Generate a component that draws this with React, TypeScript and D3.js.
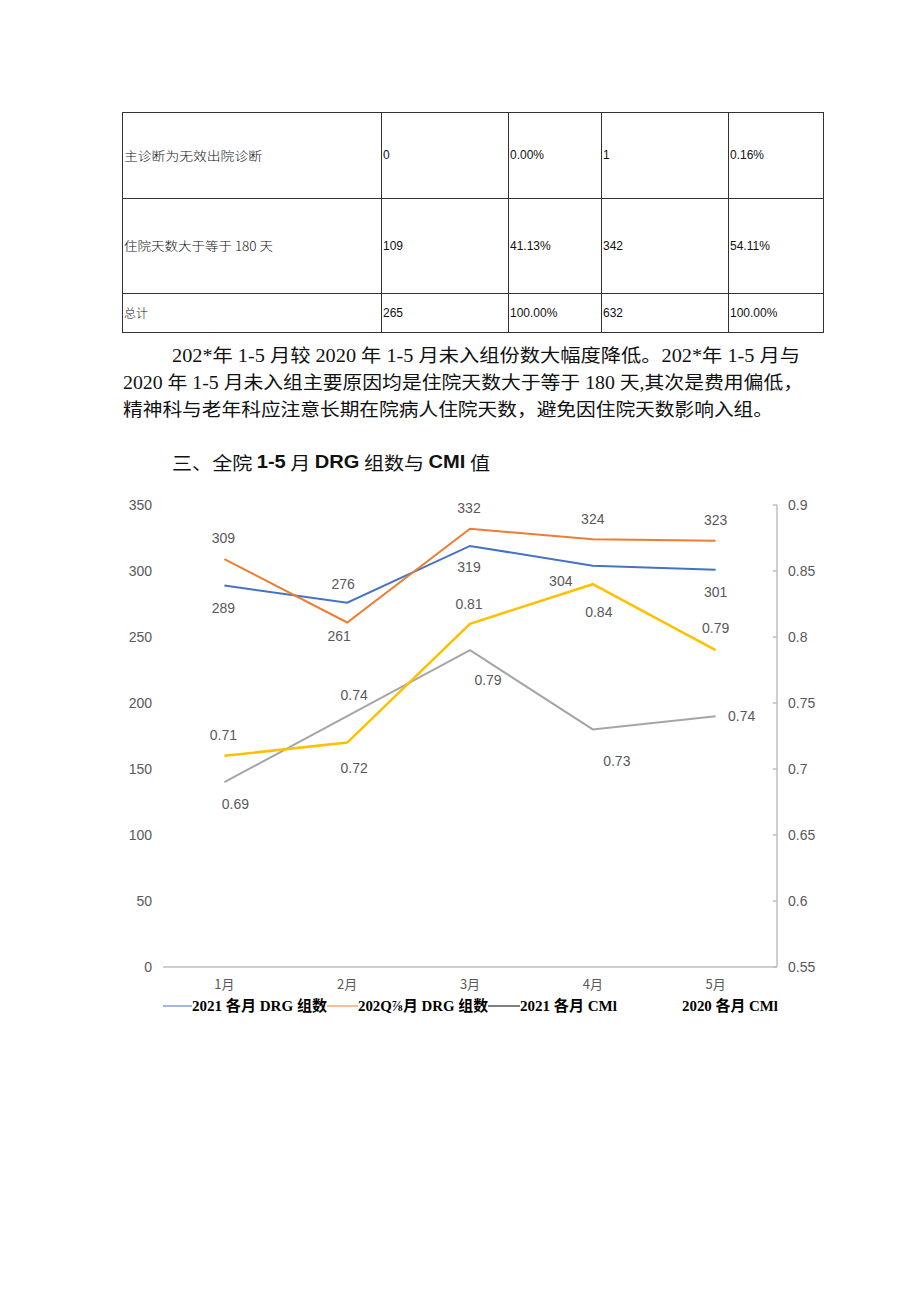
import React from 'react';
import * as d3 from 'd3';

// ---- table data ----
const tableRows = ['主诊断为无效出院诊断', '住院天数大于等于 180 天', '总计'];
const count2021 = ['0', '109', '265'];
const pct2021 = ['0.00%', '41.13%', '100.00%'];
const count2020 = ['1', '342', '632'];
const pct2020 = ['0.16%', '54.11%', '100.00%'];

// ---- paragraph text ----
const paraLines = [
  '202*年 1-5 月较 2020 年 1-5 月未入组份数大幅度降低。202*年 1-5 月与',
  '2020 年 1-5 月未入组主要原因均是住院天数大于等于 180 天,其次是费用偏低，',
  '精神科与老年科应注意长期在院病人住院天数，避免因住院天数影响入组。',
];

// ---- chart data ----
const months = ['1月', '2月', '3月', '4月', '5月'];
const drg2021 = [289, 276, 319, 304, 301];
const drg2020 = [309, 261, 332, 324, 323];
const cmi2021 = [0.69, 0.74, 0.79, 0.73, 0.74];
const cmi2020 = [0.71, 0.72, 0.81, 0.84, 0.79];
const leftTicks = [0, 50, 100, 150, 200, 250, 300, 350];
const rightTicks = [0.55, 0.6, 0.65, 0.7, 0.75, 0.8, 0.85, 0.9];
const seriesNames = ['2021 各月 DRG 组数', '202Q⅞月 DRG 组数', '2021 各月 CMl', '2020 各月 CMl'];

// ---- label placement (style) ----
const blueOff = [[-1, 22], [-4, -19], [-1, 21], [-32, 15], [0, 22]];
const orangeOff = [[-1, -21], [-8, 14], [-1, -21], [0, -20], [0, -21]];
const grayOff = [[11, 22], [7, -21], [18, 30], [24, 32], [26, 0]];
const yellowOff = [[-1, -21], [7, 25], [-1, -20], [6, 28], [0, -22]];

const SANS = '"Liberation Sans", Arial, "Noto Sans CJK SC", sans-serif';
const SERIF = '"Liberation Serif", "Times New Roman", "Noto Sans CJK SC", serif';
const CJK = '"Noto Sans CJK SC", "Liberation Sans", sans-serif';

export default function App() {
  // table geometry
  const colX = [122, 381, 508, 601, 728, 823];
  const rowY = [112, 198, 293, 332];
  const cols = [tableRows, count2021, pct2021, count2020, pct2020];
  const cjkLen = [138, 149, 24];

  // chart scales
  const x = d3.scaleBand<string>().domain(months).range([163, 777]);
  const cx = (m: string) => (x(m) as number) + x.bandwidth() / 2;
  const yL = d3.scaleLinear().domain([0, 350]).range([967, 505]);
  const yR = d3.scaleLinear().domain([0.55, 0.9]).range([967, 505]);

  const series = [
    { values: drg2021, scale: yL, color: '#4472C4', off: blueOff, fmt: (v: number) => String(v), w: 2 },
    { values: drg2020, scale: yL, color: '#ED7D31', off: orangeOff, fmt: (v: number) => String(v), w: 2 },
    { values: cmi2021, scale: yR, color: '#A5A5A5', off: grayOff, fmt: (v: number) => v.toFixed(2), w: 2 },
    { values: cmi2020, scale: yR, color: '#FFC000', off: yellowOff, fmt: (v: number) => v.toFixed(2), w: 2.5 },
  ];

  const fmtR = (v: number) => String(+v.toFixed(2));

  const legend = [
    { x1: 163, x2: 192, color: '#4472C4', tx: 192, len: 135 },
    { x1: 327, x2: 358, color: '#ED7D31', tx: 358, len: 130 },
    { x1: 488, x2: 520, color: '#000000', tx: 520, len: 97 },
    { x1: 0, x2: 0, color: 'none', tx: 682, len: 96 },
  ];

  return (
    <svg
      width={920}
      height={1301}
      style={{ position: 'absolute', left: 0, top: 0, background: '#fff' }}
    >
      <rect x={0} y={0} width={920} height={1301} fill="#fff" />

      {/* ---- table ---- */}
      <g stroke="#333" strokeWidth={1} shapeRendering="crispEdges">
        <rect x={colX[0]} y={rowY[0]} width={colX[5] - colX[0]} height={rowY[3] - rowY[0]} fill="none" />
        {rowY.slice(1, 3).map((y) => (
          <line key={'r' + y} x1={colX[0]} x2={colX[5]} y1={y} y2={y} />
        ))}
        {colX.slice(1, 5).map((xx) => (
          <line key={'c' + xx} x1={xx} x2={xx} y1={rowY[0]} y2={rowY[3]} />
        ))}
      </g>
      {cols.map((col, ci) =>
        col.map((t, ri) => {
          const yc = (rowY[ri] + rowY[ri + 1]) / 2;
          if (ci === 0) {
            return (
              <text key={ci + '-' + ri} x={colX[0] + 2} y={yc} dominantBaseline="central" fontFamily={CJK} fontSize={12.5} fontWeight={300} fill="#111" textLength={cjkLen[ri]} lengthAdjust="spacingAndGlyphs">
                {t}
              </text>
            );
          }
          return (
            <text key={ci + '-' + ri} x={colX[ci] + 2} y={yc} dominantBaseline="central" fontFamily={SANS} fontSize={12} fill="#111">
              {t}
            </text>
          );
        })
      )}

      {/* ---- paragraph ---- */}
      {paraLines.map((l, i) => (
        <text
          key={'p' + i}
          x={i === 0 ? 172 : 123}
          y={356 + i * 27}
          dominantBaseline="central"
          fontFamily={SERIF}
          fontSize={18}
          fill="#111"
          textLength={[628, 680, 650][i]}
          lengthAdjust="spacingAndGlyphs"
        >
          {l}
        </text>
      ))}

      {/* ---- heading ---- */}
      <text x={172} y={462} dominantBaseline="central" fontFamily={CJK} fontSize={18} fill="#111" textLength={318} lengthAdjust="spacingAndGlyphs">
        三、全院 <tspan fontFamily={SANS} fontWeight="bold">1-5</tspan> 月 <tspan fontFamily={SANS} fontWeight="bold">DRG</tspan> 组数与 <tspan fontFamily={SANS} fontWeight="bold">CMI</tspan> 值
      </text>

      {/* ---- chart axes ---- */}
      <g fontFamily={SANS} fontSize={14} fill="#595959">
        {leftTicks.map((t) => (
          <text key={'l' + t} x={152} y={yL(t)} textAnchor="end" dominantBaseline="central">
            {t}
          </text>
        ))}
        {rightTicks.map((t) => (
          <text key={'rt' + t} x={788} y={yR(t)} dominantBaseline="central">
            {fmtR(t)}
          </text>
        ))}
        {months.map((m) => (
          <text key={m} x={cx(m)} y={983} textAnchor="middle" dominantBaseline="central" fontFamily={CJK} fontSize={13}>
            {m}
          </text>
        ))}
      </g>
      <g stroke="#BFBFBF" strokeWidth={1.5}>
        <line x1={163} x2={777} y1={yL(0)} y2={yL(0)} />
        <line x1={777} x2={777} y1={yR(0.9)} y2={yR(0.55)} />
        {rightTicks.map((t) => (
          <line key={'tk' + t} x1={773} x2={777} y1={yR(t)} y2={yR(t)} />
        ))}
      </g>

      {/* ---- lines ---- */}
      {series.map((s, si) => {
        const gen = d3
          .line<number>()
          .x((_, i) => cx(months[i]))
          .y((v) => s.scale(v));
        return (
          <path key={'s' + si} d={gen(s.values) || ''} fill="none" stroke={s.color} strokeWidth={s.w} strokeLinejoin="miter" />
        );
      })}

      {/* ---- data labels ---- */}
      <g fontFamily={SANS} fontSize={14} fill="#595959">
        {series.map((s, si) =>
          s.values.map((v, i) => (
            <text
              key={'dl' + si + '-' + i}
              x={cx(months[i]) + s.off[i][0]}
              y={s.scale(v) + s.off[i][1]}
              textAnchor="middle"
              dominantBaseline="central"
            >
              {s.fmt(v)}
            </text>
          ))
        )}
      </g>

      {/* ---- legend ---- */}
      {legend.map((l, i) => (
        <g key={'lg' + i}>
          {l.color !== 'none' && <line x1={l.x1} x2={l.x2} y1={1006} y2={1006} stroke={l.color} strokeWidth={1} />}
          <text x={l.tx} y={1006} dominantBaseline="central" fontFamily={SERIF} fontWeight="bold" fontSize={15} fill="#000" textLength={l.len} lengthAdjust="spacingAndGlyphs">
            {seriesNames[i]}
          </text>
        </g>
      ))}
    </svg>
  );
}
